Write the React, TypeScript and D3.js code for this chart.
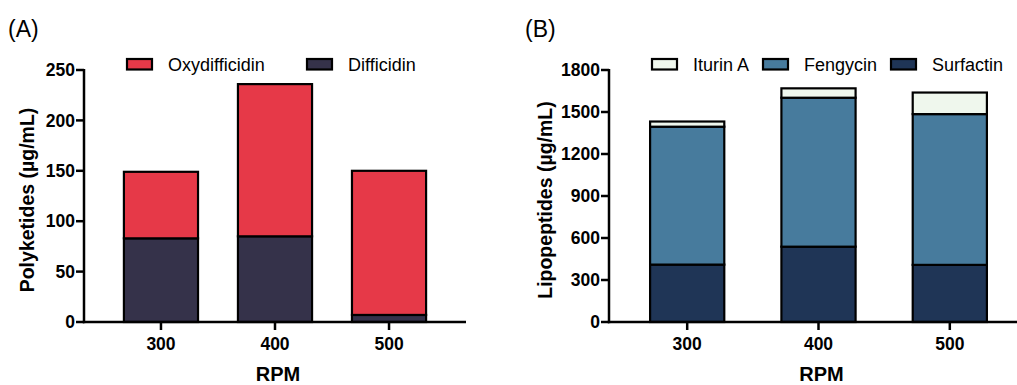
import React from 'react';
import * as d3 from 'd3';

const rpm = ['300', '400', '500'];

// panel A (polyketides)
const difficidin = [83, 85, 7];
const oxydifficidin = [66, 151, 143];
const ticksA = [0, 50, 100, 150, 200, 250];

// panel B (lipopeptides)
const surfactin = [410, 538, 408];
const fengycin = [985, 1064, 1077];
const iturinA = [37, 67, 154];
const ticksB = [0, 300, 600, 900, 1200, 1500, 1800];

const FONT = 'Arial, "Liberation Sans", Helvetica, sans-serif';

type Series = { name: string; color: string; values: number[] };

type PanelProps = {
  tag: string;
  tagX: number;
  yLabel: string;
  series: Series[]; // bottom to top
  legend: { name: string; x: number }[];
  ticks: number[];
  x0: number;
  x1: number;
  padOuter: number;
  padInner: number;
  labelX: number;
};

function Panel(props: PanelProps) {
  const { series, ticks } = props;
  const top = 70, bottom = 322;
  const x = d3.scaleBand<string>()
    .domain(rpm)
    .range([props.x0, props.x1])
    .paddingInner(props.padInner)
    .paddingOuter(props.padOuter);
  const y = d3.scaleLinear()
    .domain([0, ticks[ticks.length - 1]])
    .range([bottom, top]);

  const rows = rpm.map((r, i) => {
    const row: any = { rpm: r };
    series.forEach(s => { row[s.name] = s.values[i]; });
    return row;
  });
  const stacked = d3.stack<any>().keys(series.map(s => s.name))(rows);
  const colorOf = (name: string) => series.find(s => s.name === name)!.color;

  const midY = (top + bottom) / 2;

  return (
    <g fontFamily={FONT}>
      <text x={props.tagX} y={37} fontSize={23}>{props.tag}</text>

      {stacked.map(layer => (
        <g key={layer.key}>
          {layer.map((d, i) => (
            <rect key={i}
              x={x(rpm[i])!}
              y={y(d[1])}
              width={x.bandwidth()}
              height={y(d[0]) - y(d[1])}
              fill={colorOf(layer.key)}
              stroke="#000"
              strokeWidth={2.2} />
          ))}
        </g>
      ))}

      {/* y axis */}
      <line x1={props.x0} x2={props.x0} y1={top - 1} y2={bottom + 1.2} stroke="#000" strokeWidth={2.5} />
      {ticks.map(t => (
        <g key={t} transform={`translate(0,${y(t)})`}>
          <line x1={props.x0 - 8} x2={props.x0} stroke="#000" strokeWidth={2.5} />
          <text x={props.x0 - 9} dy="0.35em" textAnchor="end" fontSize={17.5} fontWeight="bold">{t}</text>
        </g>
      ))}
      <text transform={`translate(${props.labelX},${midY + 4}) rotate(-90)`} textAnchor="middle"
        fontSize={19.5} fontWeight="bold">{props.yLabel}</text>

      {/* x axis */}
      <line x1={props.x0 - 1.2} x2={props.x1} y1={bottom} y2={bottom} stroke="#000" strokeWidth={2.5} />
      {rpm.map(r => (
        <g key={r} transform={`translate(${x(r)! + x.bandwidth() / 2},${bottom})`}>
          <line y1={0} y2={8} stroke="#000" strokeWidth={2.5} />
          <text y={28} textAnchor="middle" fontSize={17.5} fontWeight="bold">{r}</text>
        </g>
      ))}
      <text x={x('400')! + x.bandwidth() / 2 + 3} y={381} textAnchor="middle" fontSize={20} fontWeight="bold">RPM</text>

      {/* legend */}
      {props.legend.map(l => (
        <g key={l.name} transform={`translate(${l.x},59)`}>
          <rect width={25} height={10.5} fill={colorOf(l.name)} stroke="#000" strokeWidth={2.2} />
          <text x={41} y={12} fontSize={18}>{l.name}</text>
        </g>
      ))}
    </g>
  );
}

export default function App() {
  const seriesA: Series[] = [
    { name: 'Difficidin', color: '#35324a', values: difficidin },
    { name: 'Oxydifficidin', color: '#e63948', values: oxydifficidin },
  ];
  const seriesB: Series[] = [
    { name: 'Surfactin', color: '#1f3556', values: surfactin },
    { name: 'Fengycin', color: '#477b9d', values: fengycin },
    { name: 'Iturin A', color: '#eff7ed', values: iturinA },
  ];
  return (
    <svg width={1017} height={385} style={{ position: 'absolute', left: 0, top: 0, background: '#fff' }}>
      <Panel tag="(A)" tagX={8} yLabel="Polyketides (µg/mL)" series={seriesA}
        legend={[{ name: 'Oxydifficidin', x: 127 }, { name: 'Difficidin', x: 307 }]}
        ticks={ticksA} x0={84} x1={466} padInner={0.35} padOuter={0.35} labelX={34} />
      <Panel tag="(B)" tagX={525} yLabel="Lipopeptides (µg/mL)" series={seriesB}
        legend={[{ name: 'Iturin A', x: 652 }, { name: 'Fengycin', x: 763 }, { name: 'Surfactin', x: 891 }]}
        ticks={ticksB} x0={609} x1={1028} padInner={0.435} padOuter={0.313} labelX={552} />
    </svg>
  );
}
